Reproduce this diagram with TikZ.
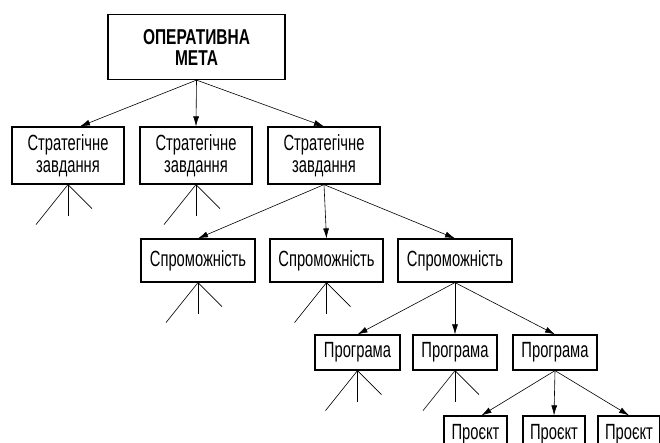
\documentclass[tikz,border=0pt]{standalone}
\usepackage{fontspec}
\setmainfont{Liberation Sans}[FakeStretch=0.67]
\newfontfamily\titlefont{Liberation Sans}[FakeStretch=0.72]
\usetikzlibrary{arrows.meta,calc}
\begin{document}
\begin{tikzpicture}[x=1pt,y=-1pt,
  box/.style={draw,line width=1.2pt,align=center,inner sep=0pt,font=\fontsize{22}{22}\selectfont},
  con/.style={line width=0.6pt,-{Latex[length=10pt,width=6pt]}},
  wh/.style={line width=0.6pt}]
\clip (0,0) rectangle (660,443);
\useasboundingbox (0,0) rectangle (660,443);
\fill[white] (0,0) rectangle (660,443);
% level 1
\node[box,minimum width=177pt,minimum height=65pt,font=\titlefont\bfseries\fontsize{21.5}{21}\selectfont] (top) at (196.5,47) {ОПЕРАТИВНА\\МЕТА};
% level 2
\node[box,minimum width=112pt,minimum height=57pt] (s1) at (68,155.5) {Стратегічне\\завдання};
\node[box,minimum width=112pt,minimum height=57pt] (s2) at (196,155.5) {Стратегічне\\завдання};
\node[box,minimum width=112pt,minimum height=57pt] (s3) at (324,155.5) {Стратегічне\\завдання};
% level 3
\node[box,minimum width=114pt,minimum height=43pt] (c1) at (198,260.5) {Спроможність};
\node[box,minimum width=113pt,minimum height=43pt] (c2) at (326.5,260.5) {Спроможність};
\node[box,minimum width=114pt,minimum height=43pt] (c3) at (455,260.5) {Спроможність};
% level 4
\node[box,minimum width=85pt,minimum height=35pt] (p1) at (357.5,352.5) {Програма};
\node[box,minimum width=84pt,minimum height=35pt] (p2) at (455,352.5) {Програма};
\node[box,minimum width=84pt,minimum height=35pt] (p3) at (555,352.5) {Програма};
% level 5
\node[box,minimum width=63pt,minimum height=36pt] (j1) at (475.5,434) {Проєкт};
\node[box,minimum width=62pt,minimum height=36pt] (j2) at (554,434) {Проєкт};
\node[box,minimum width=62pt,minimum height=36pt] (j3) at (629,434) {Проєкт};
% connectors
\draw[con] (top.south) -- ($(s1.north)+(12,0)$);
\draw[con] (top.south) -- (s2.north);
\draw[con] (top.south) -- (s3.north);
\draw[con] (s3.south) -- (c1.north);
\draw[con] (s3.south) -- (c2.north);
\draw[con] (s3.south) -- (c3.north);
\draw[con] (c3.south) -- (p1.north);
\draw[con] (c3.south) -- (p2.north);
\draw[con] (c3.south) -- (p3.north);
\draw[con] (p3.south) -- ($(j1.north)+(6,0)$);
\draw[con] (p3.south) -- (j2.north);
\draw[con] (p3.south) -- (j3.north);
% whiskers
\foreach \n in {s1,s2,c1,c2,p1,p2}{
  \coordinate (\n-wl) at ($(\n.south)+(-32,40)$);
  \coordinate (\n-wm) at ($(\n.south)+(0,31)$);
  \coordinate (\n-wr) at ($(\n.south)+(24,24)$);
  \draw[wh] (\n.south) -- (\n-wl);
  \draw[wh] (\n.south) -- (\n-wm);
  \draw[wh] (\n.south) -- (\n-wr);
}
\end{tikzpicture}
\end{document}
